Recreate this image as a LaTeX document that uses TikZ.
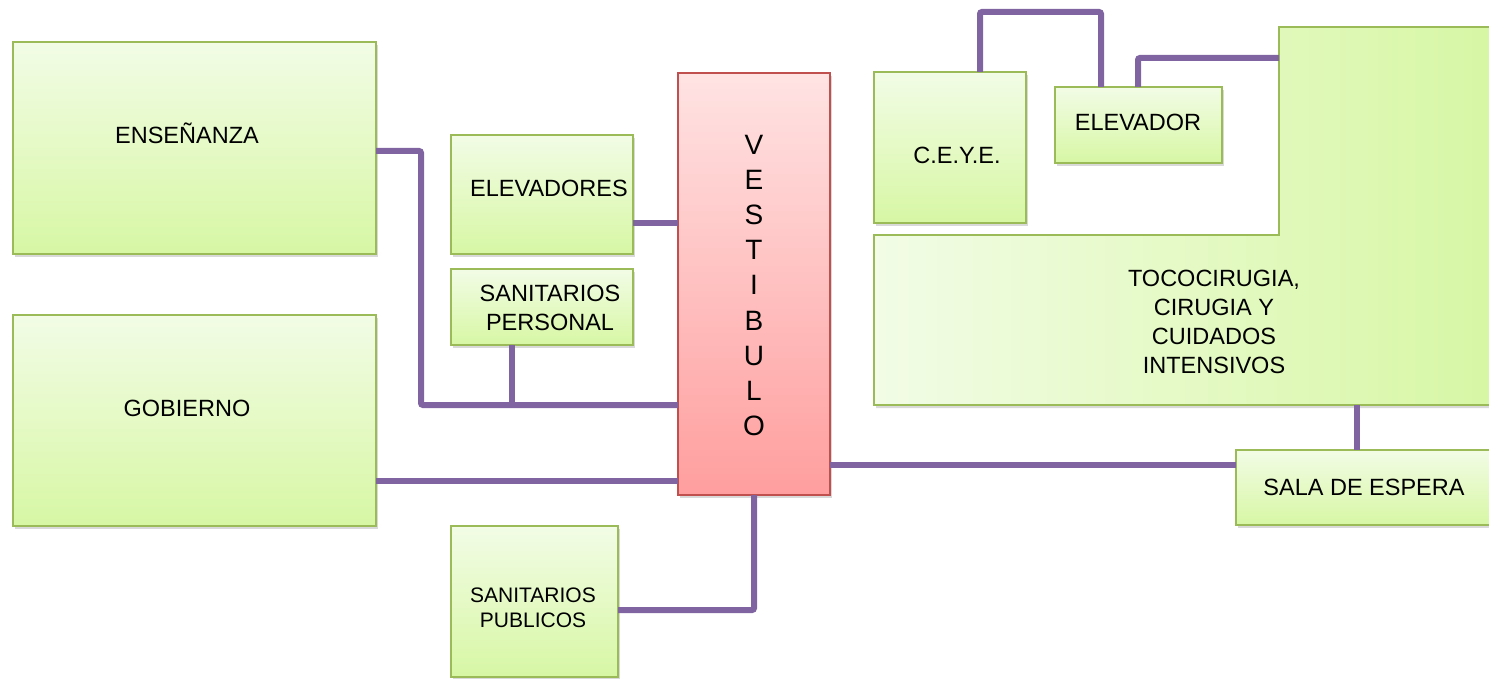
\documentclass[tikz,border=0pt]{standalone}
\usepackage{fontspec}
\setmainfont{Liberation Sans}
\usetikzlibrary{shadows}
\definecolor{gborder}{HTML}{9BBB59}
\definecolor{gtop}{HTML}{F2FCE6}
\definecolor{gbot}{HTML}{D7F7A4}
\definecolor{rtop}{HTML}{FFE3E3}
\definecolor{rbot}{HTML}{FF9E9E}
\definecolor{rborder}{HTML}{C0504D}
\definecolor{purp}{HTML}{8064A2}
\begin{document}
\begin{tikzpicture}[x=1pt,y=-1pt,
  shad/.style={drop shadow={opacity=0.3, shadow xshift=2pt, shadow yshift=-3pt}},
  gbox/.style={shad, draw=gborder, line width=1.5pt, top color=gtop, bottom color=gbot, inner sep=0pt, outer sep=0pt},
  rbox/.style={shad, draw=rborder, line width=1.5pt, top color=rtop, bottom color=rbot, inner sep=0pt, outer sep=0pt},
  lbl/.style={align=center, inner sep=0pt, font=\fontsize{23.5}{29}\selectfont},
  conn/.style={draw=purp, line width=6pt, rounded corners=2pt}]
\useasboundingbox (0,0) rectangle (1489,679);

% boxes
\node[gbox, minimum width=363pt, minimum height=212pt] (ens) at (194.5,148) {};
\node[gbox, minimum width=363pt, minimum height=211pt] (gob) at (194.5,420.5) {};
\node[gbox, minimum width=182pt, minimum height=119pt] (elevs) at (542,194.5) {};
\node[gbox, minimum width=182pt, minimum height=76pt] (sanpers) at (542,307) {};
\node[gbox, minimum width=167pt, minimum height=151pt] (sanpub) at (534.5,601.5) {};
\node[rbox, minimum width=152pt, minimum height=422pt] (vest) at (754,284) {};
\node[gbox, minimum width=152pt, minimum height=151pt] (ceye) at (950,147.5) {};
\node[gbox, minimum width=167pt, minimum height=76pt] (elev) at (1138.5,125) {};
\node[gbox, minimum width=259pt, minimum height=75pt] (sala) at (1365.5,487.5) {};

% L-shaped block
\path[shad, draw=gborder, line width=1.5pt, left color=gtop, right color=gbot]
  (874,235) -- (1279,235) -- (1279,27) -- (1495,27) -- (1495,405) -- (874,405) -- cycle;
\coordinate (tocoW) at (1279,58);
\coordinate (tocoS) at (1357,405);

% texts
\node[lbl] (ens-t) at (187,133) {ENSEÑANZA};
\node[lbl] (gob-t) at (187,408) {GOBIERNO};
\node[lbl] (elevs-t) at (549,188) {ELEVADORES};
\node[lbl] (sanpers-t) at (550,307.5) {SANITARIOS\\PERSONAL};
\node[lbl, font=\fontsize{21}{25}\selectfont] (sanpub-t) at (533,607.5) {SANITARIOS\\PUBLICOS};
\node[lbl, font=\fontsize{28}{35.1}\selectfont] (vest-t) at (754,285.5) {V\\E\\S\\T\\I\\B\\U\\L\\O};
\node[lbl] (ceye-t) at (957,155) {C.E.Y.E.};
\node[lbl] (elev-t) at (1138,122) {ELEVADOR};
\node[lbl] (toco-t) at (1214,321.5) {TOCOCIRUGIA,\\CIRUGIA Y\\CUIDADOS\\INTENSIVOS};
\node[lbl] (sala-t) at (1364,487) {SALA DE ESPERA};

% connectors
\coordinate (j1) at (421,405);
\coordinate (j2) at (512,405);
\draw[conn] (ens.east |- 0,151) -| (j1) -- (j1 -| vest.west);
\draw[conn] (sanpers.south -| j2) -- (j2);
\draw[conn] (elevs.east |- 0,223) -- (vest.west |- 0,223);
\draw[conn] (gob.east |- 0,481) -- (vest.west |- 0,481);
\draw[conn] (vest.south) |- (sanpub.east |- 0,610);
\draw[conn] (vest.east |- 0,465) -- (sala.west |- 0,465);
\draw[conn] (tocoS) -- (sala.north -| tocoS);
\draw[conn] (ceye.north -| 980,0) -- (980,12) -- (1101,12) -- (elev.north -| 1101,0);
\draw[conn] (elev.north -| 1138,0) |- (tocoW);
\end{tikzpicture}
\end{document}
